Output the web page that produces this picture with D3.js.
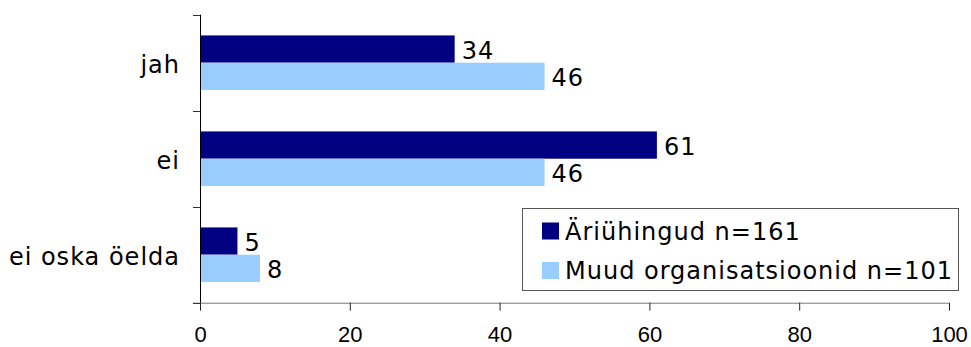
<!DOCTYPE html>
<html>
<head>
<meta charset="utf-8">
<script src="https://cdn.jsdelivr.net/npm/d3@7"></script>
<style>
  html, body { margin: 0; padding: 0; background: #fff; }
  svg { display: block; }
</style>
</head>
<body>
<svg id="chart" width="971" height="347"></svg>
<script>
// Answer categories (top to bottom)
const categories = ["jah", "ei", "ei oska öelda"];
// Series names shown in the legend
const seriesNames = ["Äriühingud n=161", "Muud organisatsioonid n=101"];
// Percentages per series, in category order
const companies = [34, 61, 5];
const otherOrgs = [46, 46, 8];
// Value axis ticks
const xTicks = [0, 20, 40, 60, 80, 100];

const colors = ["#000080", "#99ccff"];
const seriesValues = [companies, otherOrgs];

const svg = d3.select("#chart");
const plotLeft = 200, plotRight = 949, plotTop = 14.7, plotBottom = 302.7;

const x = d3.scaleLinear().domain([0, 100]).range([plotLeft, plotRight]);
const y = d3.scaleBand().domain(categories).range([plotTop, plotBottom]).padding(0);
const ySub = d3.scaleBand().domain(d3.range(seriesNames.length))
  .range([0, y.bandwidth()]).paddingInner(0).paddingOuter(0.76);

const textFont = "DejaVu Sans";

// Bars
const groups = svg.append("g").selectAll("g")
  .data(categories)
  .join("g")
  .attr("transform", d => `translate(0,${y(d)})`);

groups.selectAll("rect")
  .data((c, i) => seriesValues.map((vals, s) => ({ s, v: vals[i] })))
  .join("rect")
  .attr("x", x(0))
  .attr("y", d => ySub(d.s))
  .attr("width", d => x(d.v) - x(0))
  .attr("height", ySub.bandwidth())
  .attr("fill", d => colors[d.s]);

// Value labels at bar ends
groups.selectAll("text")
  .data((c, i) => seriesValues.map((vals, s) => ({ s, v: vals[i] })))
  .join("text")
  .attr("x", d => x(d.v) + 7)
  .attr("y", d => ySub(d.s) + ySub.bandwidth() / 2 + 1)
  .attr("dy", "0.38em")
  .attr("font-family", textFont)
  .attr("font-size", 24)
  .attr("letter-spacing", 1)
  .attr("fill", "#000")
  .text(d => d.v);

// Value axis
const xAxis = svg.append("g")
  .attr("transform", `translate(0,${plotBottom})`)
  .call(d3.axisBottom(x).tickValues(xTicks).tickSize(8).tickPadding(16).tickSizeOuter(0));
xAxis.select(".domain").attr("stroke", "#777").attr("d", `M${plotLeft - 7},0.5H${plotRight}`);
xAxis.selectAll(".tick line").attr("stroke", "#222");
xAxis.selectAll(".tick text")
  .attr("font-family", "Liberation Sans")
  .attr("font-size", 22)
  .attr("fill", "#000");

// Category axis with ticks on band boundaries
const yAxis = svg.append("g").attr("transform", `translate(${plotLeft},0)`);
yAxis.append("line")
  .attr("x1", 0.5).attr("x2", 0.5)
  .attr("y1", plotTop).attr("y2", plotBottom)
  .attr("stroke", "#000");
yAxis.selectAll("line.tick")
  .data(categories.map(c => y(c)).concat([plotBottom]))
  .join("line")
  .attr("class", "tick")
  .attr("x1", -7).attr("x2", 0)
  .attr("y1", d => Math.round(d) + 0.5).attr("y2", d => Math.round(d) + 0.5)
  .attr("stroke", "#333");
yAxis.selectAll("text")
  .data(categories)
  .join("text")
  .attr("x", -20)
  .attr("y", d => y(d) + y.bandwidth() / 2 + 2)
  .attr("dy", "0.36em")
  .attr("text-anchor", "end")
  .attr("font-family", textFont)
  .attr("font-size", 24)
  .attr("letter-spacing", 1)
  .attr("fill", "#000")
  .text(d => d);

// Legend
const legend = svg.append("g");
legend.append("rect")
  .attr("x", 522.5).attr("y", 208.5)
  .attr("width", 436).attr("height", 82)
  .attr("fill", "#fff").attr("stroke", "#555");
const items = legend.selectAll("g.item")
  .data(seriesNames)
  .join("g")
  .attr("class", "item")
  .attr("transform", (d, i) => `translate(542,${222.5 + i * 39.5})`);
items.append("rect")
  .attr("width", 17).attr("height", 17)
  .attr("fill", (d, i) => colors[i]);
items.append("text")
  .attr("x", 23).attr("y", 8.5)
  .attr("dy", "0.36em")
  .attr("font-family", textFont)
  .attr("font-size", 24)
  .attr("letter-spacing", 1)
  .attr("fill", "#000")
  .text(d => d);
</script>
</body>
</html>
